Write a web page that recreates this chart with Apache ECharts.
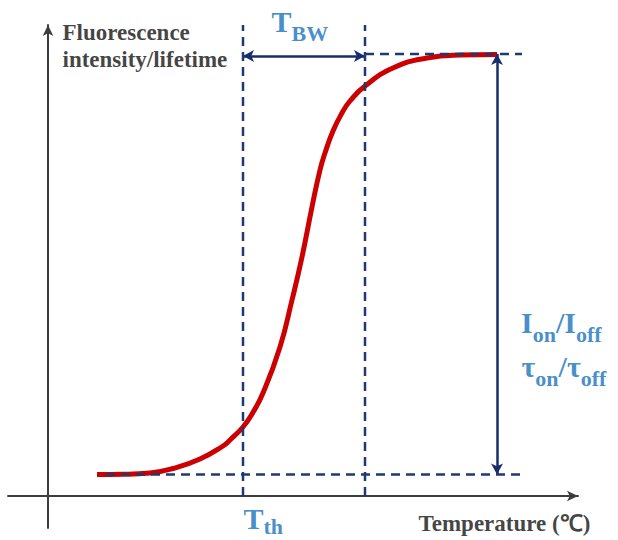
<!DOCTYPE html>
<html>
<head>
<meta charset="utf-8">
<script src="https://cdn.jsdelivr.net/npm/echarts@6/dist/echarts.min.js"></script>
<style>html,body{margin:0;padding:0;background:#fff}#c{width:618px;height:540px}</style>
</head>
<body>
<div id="c"></div>
<script>
// ---- data ----
const curveX = [4.9, 7.5, 10.2, 12.5, 15.2, 17.5, 18.2, 19.5, 20.4, 21.5, 23.2, 24.4, 25.4, 26.4, 27.2, 27.7, 28.5, 29.4, 30.2, 31.7, 34.5, 37.9, 41.2, 44.9];
const curveY = [2.15, 2.17, 2.3, 2.75, 3.7, 5.0, 5.6, 6.9, 8.2, 10.3, 14.9, 19.6, 23.9, 28.9, 32.6, 34.3, 36.5, 38.3, 39.5, 41.0, 42.8, 43.8, 44.1, 44.15];
const thresholds = [19.5, 31.7];      // T_th and T_th + T_BW
const levels = [2.15, 44.2];          // off / on level
const onOffX = 44.9;                  // position of I_on/I_off arrow
const bwArrowY = 44.0;
const yLabel = ['Fluorescence', 'intensity/lifetime'];
const xLabel = 'Temperature (℃)';

const navy = '#1f3a73';
const blue = '#1571bd';
const serif = 'Liberation Serif';

const dashStyle = {color: navy, width: 2.5, type: [9, 6]};
function seg(a, b) { return {type: 'line', data: [a, b], symbol: 'none', lineStyle: dashStyle, silent: true, clip: false, z: 5}; }

function rich(pad) {
  return {
    m: {fontFamily: serif, fontWeight: 'bold', fontSize: 30, lineHeight: 30, color: blue},
    s: {fontFamily: serif, fontWeight: 'bold', fontSize: 22, lineHeight: 6, padding: [pad, 0, 0, 0], color: blue}
  };
}
function lbl(x, y, text, align, vAlign, extra, pad) {
  return {value: [x, y], label: Object.assign({show: true, position: [0, 0], formatter: text, align: align, verticalAlign: vAlign, rich: rich(pad == null ? 24 : pad)}, extra || {})};
}
const plain = {fontFamily: serif, fontWeight: 'bold', fontSize: 23, lineHeight: 27, color: '#111'};

const annotations = [
  lbl(1.5, 42.3, yLabel.join('\n'), 'left', 'bottom', plain),
  lbl(37.1, -1.45, xLabel, 'left', 'top', plain),
  lbl(22.4, 45.9, '{m|T}{s|BW}', 'left', 'bottom'),
  lbl(19.6, -0.8, '{m|T}{s|th}', 'left', 'top', null, 16),
  lbl(47.35, 18.8, '{m|I}{s|on}{m|/I}{s|off}', 'left', 'top'),
  lbl(47.4, 14.4, '{m|τ}{s|on}{m|/τ}{s|off}', 'left', 'top')
];

const chart = echarts.init(document.getElementById('c'), null, {renderer: 'svg'});
chart.setOption({
  animation: false,
  backgroundColor: '#fff',
  grid: {left: 8, right: 40, top: 25, bottom: 12},
  xAxis: {type: 'value', min: -4, max: 53,
    axisLine: {onZero: true, symbol: ['none', 'arrow'], symbolSize: [8, 11], lineStyle: {color: '#3d3d3d', width: 2}},
    axisTick: {show: false}, axisLabel: {show: false}, splitLine: {show: false}},
  yAxis: {type: 'value', min: -3.2, max: 47.1,
    axisLine: {onZero: true, symbol: ['none', 'arrow'], symbolSize: [8, 11], lineStyle: {color: '#3d3d3d', width: 2}},
    axisTick: {show: false}, axisLabel: {show: false}, splitLine: {show: false}},
  series: [
    seg([thresholds[0], 0], [thresholds[0], 47.1]),
    seg([thresholds[1], 0], [thresholds[1], 47.1]),
    seg([thresholds[1], levels[1]], [47.4, levels[1]]),
    seg([5.8, levels[0]], [47.5, levels[0]]),
    {type: 'line', data: curveX.map((x, i) => [x, curveY[i]]), smooth: 0.5, symbol: 'none',
      lineStyle: {color: '#cc0000', width: 5}, silent: true, z: 4, clip: false},
    {type: 'line', data: [], silent: true, z: 6,
      markLine: {silent: true, symbol: ['arrow', 'arrow'], symbolSize: [9, 11], label: {show: false},
        lineStyle: {color: '#1a2d6b', width: 2.5, type: 'solid'}, emphasis: {disabled: true},
        data: [
          [{coord: [thresholds[0], bwArrowY]}, {coord: [thresholds[1], bwArrowY]}],
          [{coord: [onOffX, levels[1]]}, {coord: [onOffX, levels[0]]}]
        ]}},
    {type: 'scatter', data: annotations, symbol: 'circle', symbolSize: 1, itemStyle: {color: 'rgba(0,0,0,0)'}, silent: true, clip: false, z: 7}
  ]
});
</script>
</body>
</html>
